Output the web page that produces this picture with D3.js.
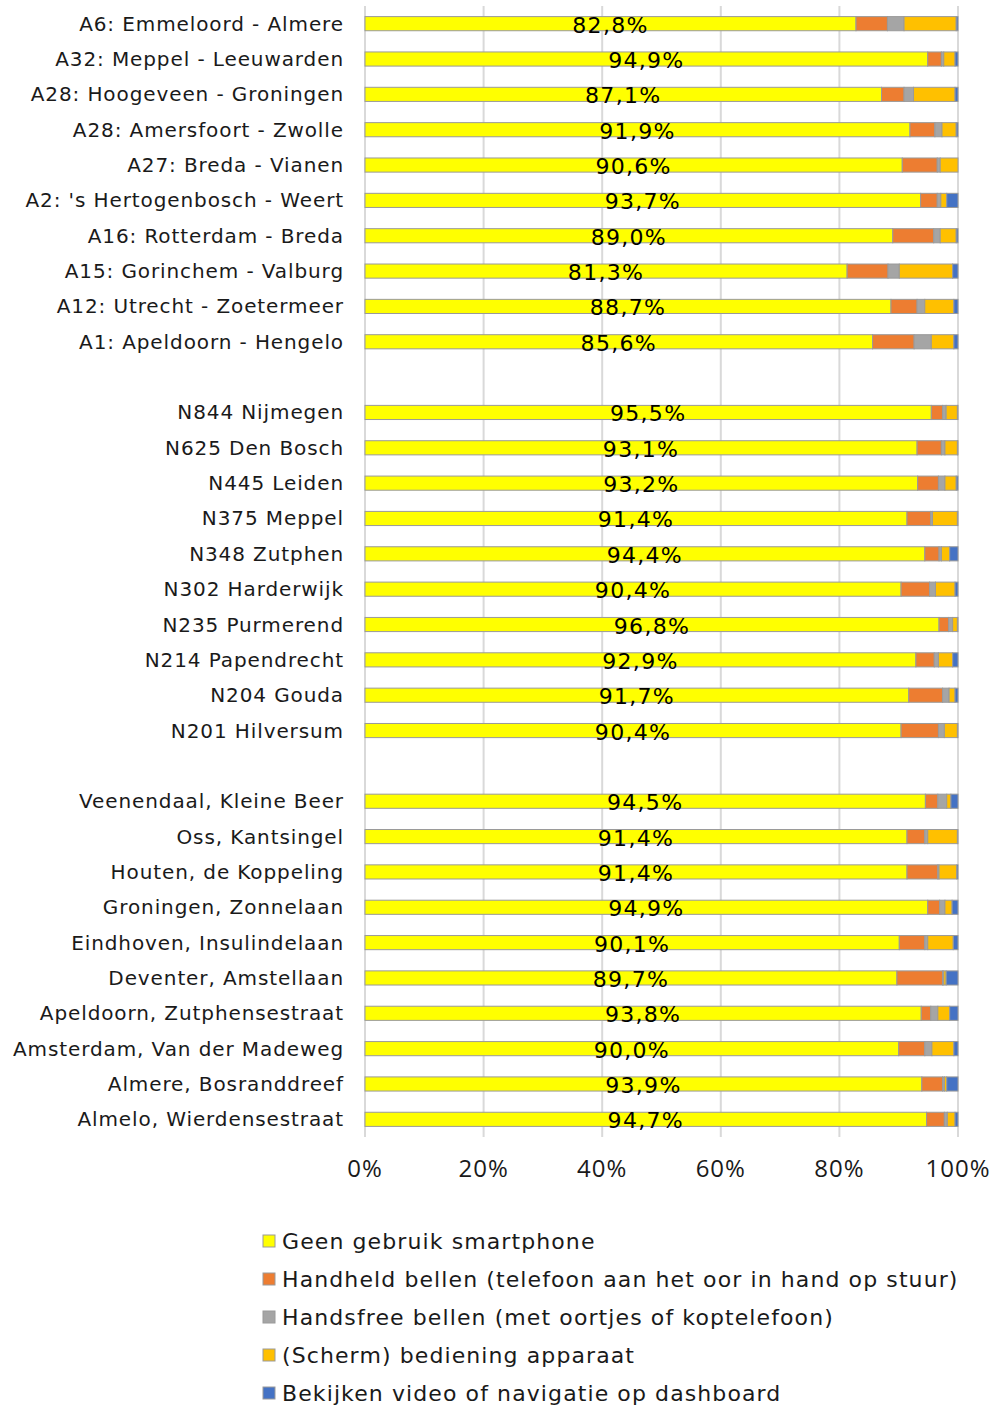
<!DOCTYPE html>
<html>
<head>
<meta charset="utf-8">
<script src="https://cdn.jsdelivr.net/npm/d3@7"></script>
<style>
  body { margin: 0; background: #fff; }
  svg { display: block; }
</style>
</head>
<body>
<div id="chart"></div>
<script>
var groupA = ["A6: Emmeloord - Almere", "A32: Meppel - Leeuwarden", "A28: Hoogeveen - Groningen",
    "A28: Amersfoort - Zwolle", "A27: Breda - Vianen", "A2: 's Hertogenbosch - Weert",
    "A16: Rotterdam - Breda", "A15: Gorinchem - Valburg", "A12: Utrecht - Zoetermeer",
    "A1: Apeldoorn - Hengelo"];
var groupN = ["N844 Nijmegen", "N625 Den Bosch", "N445 Leiden", "N375 Meppel", "N348 Zutphen",
    "N302 Harderwijk", "N235 Purmerend", "N214 Papendrecht", "N204 Gouda", "N201 Hilversum"];
var groupS = ["Veenendaal, Kleine Beer", "Oss, Kantsingel", "Houten, de Koppeling",
    "Groningen, Zonnelaan", "Eindhoven, Insulindelaan", "Deventer, Amstellaan",
    "Apeldoorn, Zutphensestraat", "Amsterdam, Van der Madeweg", "Almere, Bosranddreef",
    "Almelo, Wierdensestraat"];

var categories = groupA.concat(groupN, groupS);

var geen = [82.8, 94.9, 87.1, 91.9, 90.6, 93.7, 89.0, 81.3, 88.7, 85.6,
    95.5, 93.1, 93.2, 91.4, 94.4, 90.4, 96.8, 92.9, 91.7, 90.4,
    94.5, 91.4, 91.4, 94.9, 90.1, 89.7, 93.8, 90.0, 93.9, 94.7];
var handheld = [5.3, 2.3, 3.8, 4.2, 5.9, 2.8, 6.9, 6.9, 4.4, 7.0,
    1.9, 4.1, 3.5, 4.0, 2.4, 4.8, 1.6, 3.1, 5.7, 6.3,
    2.1, 3.0, 5.2, 2.0, 4.3, 7.7, 1.6, 4.4, 3.5, 3.0];
var handsfree = [2.8, 0.4, 1.6, 1.2, 0.5, 0.6, 1.1, 1.9, 1.3, 2.9,
    0.6, 0.6, 1.1, 0.3, 0.4, 1.0, 0.7, 0.7, 1.1, 1.0,
    1.5, 0.5, 0.2, 0.9, 0.5, 0.2, 1.2, 1.2, 0.3, 0.5];
var scherm = [8.8, 1.9, 7.0, 2.4, 3.0, 1.0, 2.7, 9.0, 4.9, 3.8,
    1.9, 2.1, 1.9, 4.2, 1.4, 3.3, 0.8, 2.4, 1.0, 2.2,
    0.7, 5.0, 3.0, 1.2, 4.3, 0.4, 2.0, 3.7, 0.4, 1.3];
var video = [0.3, 0.5, 0.5, 0.3, 0.0, 1.9, 0.3, 0.9, 0.7, 0.7,
    0.1, 0.1, 0.3, 0.1, 1.4, 0.5, 0.1, 0.9, 0.5, 0.1,
    1.2, 0.1, 0.2, 1.0, 0.8, 2.0, 1.4, 0.7, 1.9, 0.5];

var seriesNames = ["Geen gebruik smartphone", "Handheld bellen (telefoon aan het oor in hand op stuur)",
    "Handsfree bellen (met oortjes of koptelefoon)", "(Scherm) bediening apparaat",
    "Bekijken video of navigatie op dashboard"];
var colors = ["#ffff00", "#ed7d31", "#a5a5a5", "#ffc000", "#4472c4"];
var xTicks = [0, 20, 40, 60, 80, 100];

var width = 1007,
    height = 1407,
    plotLeft = 365,
    plotRight = 958,
    plotTop = 6,
    plotBottom = 1137;

// table for d3.stack
var keys = ["geen", "handheld", "handsfree", "scherm", "video"];
var table = categories.map(function (c, i) {
    return {
        cat: c,
        geen: geen[i],
        handheld: handheld[i],
        handsfree: handsfree[i],
        scherm: scherm[i],
        video: video[i]
    };
});

// band domain with an empty slot between the groups
var slots = groupA.concat(["gap1"], groupN, ["gap2"], groupS);

var x = d3.scaleLinear()
    .domain([0, 100])
    .range([plotLeft, plotRight]);

var y = d3.scaleBand()
    .domain(slots)
    .range([plotTop, plotBottom])
    .paddingInner(0.6)
    .paddingOuter(0.3);

var svg = d3.select("#chart").append("svg")
    .attr("width", width)
    .attr("height", height);

// grid lines
svg.append("g")
    .attr("class", "grid")
    .selectAll("line")
    .data(xTicks)
    .enter().append("line")
    .attr("x1", function (d) { return x(d); })
    .attr("x2", function (d) { return x(d); })
    .attr("y1", plotTop)
    .attr("y2", plotBottom)
    .attr("stroke", "#d9d9d9")
    .attr("stroke-width", 2);

var stacked = d3.stack().keys(keys)(table);

svg.append("g")
    .selectAll("g")
    .data(stacked)
    .enter().append("g")
    .attr("fill", function (d, i) { return colors[i]; })
    .selectAll("rect")
    .data(function (d) { return d; })
    .enter().append("rect")
    .attr("x", function (d) { return x(d[0]); })
    .attr("y", function (d) { return y(d.data.cat); })
    .attr("width", function (d) { return Math.max(0, x(d[1]) - x(d[0])); })
    .attr("height", y.bandwidth())
    .attr("stroke", "#9a9a9a")
    .attr("stroke-width", 1);

// value labels centered on the first segment
svg.append("g")
    .selectAll("text")
    .data(table)
    .enter().append("text")
    .attr("x", function (d) { return x(d.geen / 2); })
    .attr("y", function (d) { return y(d.cat) + y.bandwidth() / 2 + 9; })
    .attr("text-anchor", "middle")
    .style("font-family", "'DejaVu Sans', Verdana, sans-serif")
    .style("font-size", "22px")
    .style("letter-spacing", "1.3px")
    .style("fill", "#000")
    .text(function (d) { return d.geen.toFixed(1).replace(".", ",") + "%"; });

// category labels
svg.append("g")
    .selectAll("text")
    .data(categories)
    .enter().append("text")
    .attr("x", 344)
    .attr("y", function (d) { return y(d) + y.bandwidth() / 2 + 7; })
    .attr("text-anchor", "end")
    .style("font-family", "'DejaVu Sans', Verdana, sans-serif")
    .style("font-size", "20px")
    .style("letter-spacing", "0.9px")
    .style("fill", "#1a1a1a")
    .text(function (d) { return d; });

// x tick labels
svg.append("g")
    .selectAll("text")
    .data(xTicks)
    .enter().append("text")
    .attr("x", function (d) { return x(d); })
    .attr("y", 1177)
    .attr("text-anchor", "middle")
    .style("font-family", "'Open Sans', sans-serif")
    .style("font-size", "24px")
    .style("letter-spacing", "1px")
    .style("fill", "#1a1a1a")
    .text(function (d) { return d + "%"; });

// legend
var legend = svg.append("g")
    .selectAll("g")
    .data(seriesNames)
    .enter().append("g")
    .attr("transform", function (d, i) { return "translate(263," + (1241 + i * 38) + ")"; });

legend.append("rect")
    .attr("x", 0)
    .attr("y", -6)
    .attr("width", 12)
    .attr("height", 12)
    .attr("fill", function (d, i) { return colors[i]; })
    .attr("stroke", "#9a9a9a")
    .attr("stroke-width", 1);

legend.append("text")
    .attr("x", 19)
    .attr("y", 8)
    .style("font-family", "'DejaVu Sans', Verdana, sans-serif")
    .style("font-size", "22px")
    .style("letter-spacing", "1.1px")
    .style("fill", "#1a1a1a")
    .text(function (d) { return d; });
</script>
</body>
</html>
